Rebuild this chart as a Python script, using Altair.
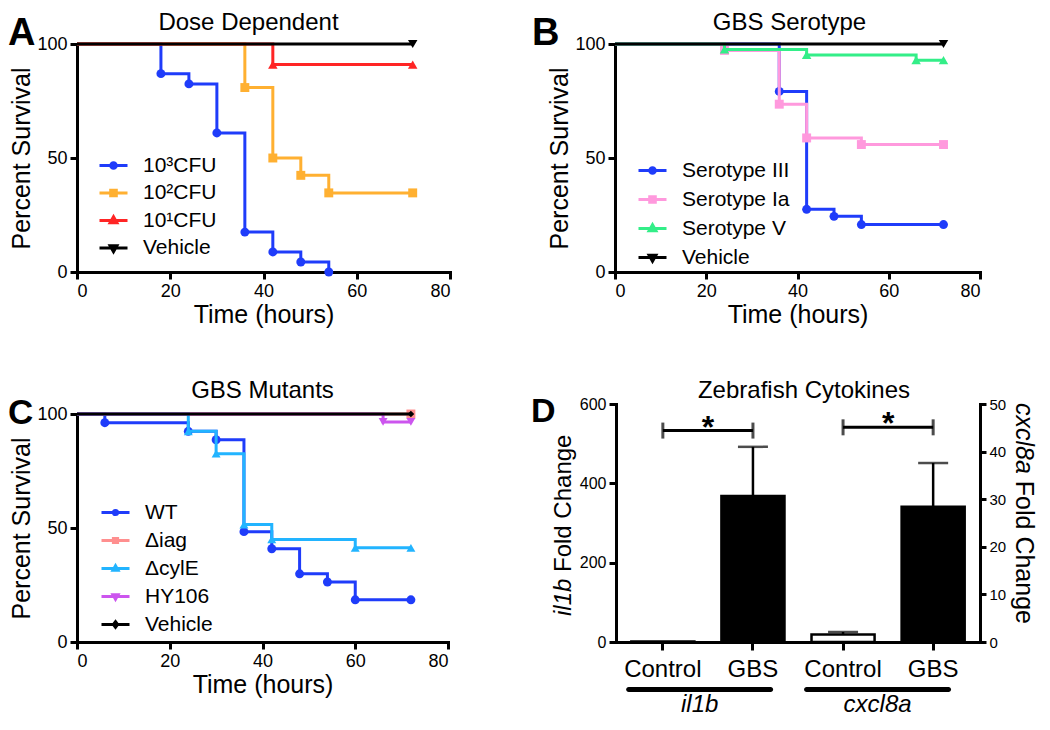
import altair as alt
import pandas as pd

FONT = "Liberation Sans"

# ---------------- Panel A : Dose Dependent ----------------
a_names = ["10³CFU", "10²CFU", "10¹CFU", "Vehicle"]
a_colors = ["#1f3cfa", "#ffb031", "#ff2525", "#000000"]
a_shapes = ["circle", "square", "triangle-up", "triangle-down"]
a_times = [
    [0, 18, 24, 30, 36, 42, 48, 54],
    [0, 36, 42, 48, 54, 72],
    [0, 42, 72],
    [0, 72],
]
a_surv = [
    [100, 87.0, 82.5, 61.0, 17.5, 8.8, 4.4, 0.0],
    [100, 80.9, 50.0, 42.4, 34.7, 34.7],
    [100, 91.0, 91.0],
    [100, 100],
]

# ---------------- Panel B : GBS Serotype ----------------
b_names = ["Serotype III", "Serotype Ia", "Serotype V", "Vehicle"]
b_colors = ["#1f3cfa", "#ff99dd", "#33ee88", "#000000"]
b_shapes = ["circle", "square", "triangle-up", "triangle-down"]
b_times = [
    [0, 36, 42, 48, 54, 72],
    [0, 24, 36, 42, 54, 72],
    [0, 24, 42, 66, 72],
    [0, 72],
]
b_surv = [
    [100, 79.2, 27.5, 24.4, 20.8, 20.8],
    [100, 97.2, 73.6, 58.8, 55.9, 55.9],
    [100, 97.6, 95.2, 92.9, 92.9],
    [100, 100],
]

# ---------------- Panel C : GBS Mutants ----------------
c_names = ["WT", "Δiag", "ΔcylE", "HY106", "Vehicle"]
c_colors = ["#1f3cfa", "#ff8f8f", "#22b4ff", "#cc55ee", "#000000"]
c_shapes = ["circle", "square", "triangle-up", "triangle-down", "diamond"]
c_times = [
    [0, 6, 24, 30, 36, 42, 48, 54, 60, 72],
    [0, 72],
    [0, 24, 30, 36, 42, 60, 72],
    [0, 66, 72],
    [0, 72],
]
c_surv = [
    [100, 96.2, 92.4, 88.7, 48.4, 40.9, 29.9, 26.3, 18.5, 18.5],
    [100, 100],
    [100, 92.4, 82.6, 51.5, 45.0, 41.3, 41.3],
    [100, 96.5, 96.5],
    [100, 100],
]

# ---------------- Panel D : Zebrafish Cytokines ----------------
d_cats = ["il1b Control", "il1b GBS", "cxcl8a Control", "cxcl8a GBS"]
d_groups = ["il1b", "cxcl8a"]
il1b_mean = [1.0, 368.0]
il1b_upper = [1.0, 492.0]
cxcl8a_mean = [1.6, 28.4]
cxcl8a_upper = [2.1, 37.6]
bar_fill = ["white", "black"]
il1b_bracket_y = 533.0
cxcl8a_bracket_y = 45.1
sig_mark = "*"

panel_letters = ["A", "B", "C", "D"]
surv_x_ticks = [0, 20, 40, 60, 80]
surv_y_ticks = [0, 50, 100]


def legend_path(shape, r):
    line = "M-1,0H1"
    if shape == "circle":
        m = f"M{-r},0A{r},{r} 0 1,1 {r},0A{r},{r} 0 1,1 {-r},0Z"
    elif shape == "square":
        m = f"M{-r},{-r}H{r}V{r}H{-r}Z"
    elif shape == "triangle-up":
        m = f"M0,{-1.3*r}L{1.2*r},{0.8*r}H{-1.2*r}Z"
    elif shape == "triangle-down":
        m = f"M0,{1.3*r}L{1.2*r},{-0.8*r}H{-1.2*r}Z"
    else:
        m = f"M0,{-1.3*r}L{r},0L0,{1.3*r}L{-r},0Z"
    return line + m


def letter_layer(letter, x, y, size):
    return alt.Chart(pd.DataFrame({"letter": [letter]})).mark_text(
        font=FONT, fontWeight="bold", fontSize=size, align="left",
        baseline="alphabetic", color="black"
    ).encode(text="letter:N", x=alt.value(x), y=alt.value(y))


def survival(title, names, colors, shapes, msizes, times, survs, letter, w, h,
             leg_x, leg_y, leg_rowpad, leg_r, title_dx, title_offset,
             letter_x, letter_y, letter_size, top_gap=0):
    rows = []
    for name, ts, ss in zip(names, times, survs):
        for i, (t, s) in enumerate(zip(ts, ss)):
            rows.append({"series": name, "t": t, "s": s, "marker": i > 0})
    df = pd.DataFrame(rows)
    x_enc = alt.X("t:Q", scale=alt.Scale(domain=[0, 80], nice=False),
                  axis=alt.Axis(values=surv_x_ticks, title="Time (hours)"))
    y_enc = alt.Y("s:Q", scale=alt.Scale(domain=[0, 100], nice=False, range=[h, top_gap]),
                  axis=alt.Axis(values=surv_y_ticks, title="Percent Survival"))
    layers = []
    for name, col, shp, ms in zip(names, colors, shapes, msizes):
        sub = alt.Chart(df).transform_filter(alt.datum.series == name)
        layers.append(sub.mark_line(interpolate="step-after", color=col,
                                    strokeWidth=3).encode(x=x_enc, y=y_enc))
        layers.append(sub.transform_filter("datum.marker").mark_point(
            filled=True, shape=shp, size=ms, color=col, opacity=1
        ).encode(x=x_enc, y=y_enc))
    leg = alt.Legend(title=None, orient="none", legendX=leg_x, legendY=leg_y,
                     labelFontSize=21, labelFont=FONT, labelColor="black",
                     labelOffset=14, symbolSize=784, symbolStrokeWidth=3,
                     rowPadding=leg_rowpad, padding=0)
    paths = [legend_path(s, leg_r) for s in shapes]
    legend_layer = alt.Chart(df).transform_filter("false").mark_point(
        filled=True, opacity=1
    ).encode(
        fill=alt.Fill("series:N", scale=alt.Scale(domain=names, range=colors), legend=leg),
        stroke=alt.Stroke("series:N", scale=alt.Scale(domain=names, range=colors), legend=leg),
        shape=alt.Shape("series:N", scale=alt.Scale(domain=names, range=paths), legend=leg),
    )
    return alt.layer(*layers, legend_layer,
                     letter_layer(letter, letter_x, letter_y, letter_size)).properties(
        width=w, height=h,
        title=alt.TitleParams(title, dx=title_dx, offset=title_offset),
    )


H1 = 228
panel_a = survival("Dose Dependent", a_names, a_colors, a_shapes, [80, 80, 90, 90],
                   a_times, a_surv, panel_letters[0], 373, H1,
                   21, 106, 1.5, 0.2, -15, -20, -69, 1, 38)
panel_b = survival("GBS Serotype", b_names, b_colors, b_shapes, [80, 80, 90, 90],
                   b_times, b_surv, panel_letters[1], 365, H1,
                   22, 111, 3, 0.2, -8, -20, -83, 1, 38)

DW, DH = 364, 238
panel_c = survival("GBS Mutants", c_names, c_colors, c_shapes, [80, 80, 80, 80, 45],
                   c_times, c_surv, panel_letters[2], 371, DH,
                   23, 93, 2, 0.15, 0, -7, -69, 20, 35, top_gap=10)

# ---------------- Panel D construction ----------------
xs_bar = alt.Scale(domain=d_cats, paddingInner=0.3, paddingOuter=0.17)
x_axis = alt.Axis(title=None, labelExpr="split(datum.label, ' ')[1]", labelAngle=0,
                  labelFontSize=24, tickSize=8, labelPadding=7)


def gene_layer(cats, mean, upper, bracket_y, ydomain, yvalues, orient, show_x):
    df = pd.DataFrame({"cat": cats, "mean": mean, "upper": upper, "fill": bar_fill})
    ysc = alt.Scale(domain=ydomain, nice=False)
    if orient == "left":
        yax = alt.Axis(orient="left", values=yvalues, title=None, labelFontSize=16,
                       tickSize=7, labelPadding=3)
    else:
        yax = alt.Axis(orient="right", values=yvalues, title=None, labelFontSize=15,
                       tickSize=6, labelPadding=3)
    xax = x_axis if show_x else None
    x = alt.X("cat:N", scale=xs_bar, axis=xax)
    bars = alt.Chart(df).mark_bar(stroke="black", strokeWidth=2.5).encode(
        x=x, y=alt.Y("mean:Q", scale=ysc, axis=yax), fill=alt.Fill("fill:N", scale=None))
    err = alt.Chart(df).transform_filter("datum.upper > datum.mean").mark_rule(
        strokeWidth=2.5, color="black").encode(
        x=x, y=alt.Y("mean:Q", scale=ysc, axis=yax), y2="upper:Q")
    cap = alt.Chart(df).transform_filter("datum.upper > datum.mean").mark_tick(
        orient="horizontal", size=30, thickness=2.5, color="black").encode(
        x=x, y=alt.Y("upper:Q", scale=ysc, axis=yax))
    bdf = pd.DataFrame({"start": [cats[0]], "end": [cats[1]], "y": [bracket_y], "star": [sig_mark]})
    ends = pd.DataFrame({"cat": cats, "y": [bracket_y, bracket_y]})
    rule = alt.Chart(bdf).mark_rule(strokeWidth=3, color="black").encode(
        x=alt.X("start:N", scale=xs_bar, axis=xax), x2="end:N",
        y=alt.Y("y:Q", scale=ysc, axis=yax))
    bcap = alt.Chart(ends).mark_tick(orient="vertical", size=16, thickness=3, color="black").encode(
        x=x, y=alt.Y("y:Q", scale=ysc, axis=yax))
    star = alt.Chart(bdf).mark_text(font=FONT, fontSize=32, fontWeight="bold", dx=-45, dy=7,
                                    baseline="alphabetic", color="black").encode(
        x=alt.X("end:N", scale=xs_bar, axis=xax), y=alt.Y("y:Q", scale=ysc, axis=yax),
        text="star:N")
    return alt.layer(bars, err, cap, rule, bcap, star)


il1b_layer = gene_layer(d_cats[:2], il1b_mean, il1b_upper, il1b_bracket_y,
                        [0, 600], [0, 200, 400, 600], "left", True)
cxcl_layer = gene_layer(d_cats[2:], cxcl8a_mean, cxcl8a_upper, cxcl8a_bracket_y,
                        [0, 50], [0, 10, 20, 30, 40, 50], "right", False)

gdf = pd.DataFrame({"group": d_groups})
gx = alt.X("group:N", scale=alt.Scale(domain=d_groups, paddingInner=0.174,
                                      paddingOuter=0.11, align=0.26), axis=None)
underline = alt.Chart(gdf).mark_bar(color="black", cornerRadius=2.5).encode(
    x=gx, y=alt.value(DH + 45), y2=alt.value(DH + 50))
glabel = alt.Chart(gdf).mark_text(font=FONT, fontSize=24, fontStyle="italic",
                                  baseline="alphabetic", color="black").encode(
    x=gx, y=alt.value(DH + 70), text="group:N")

# axis titles with italic gene names
LFS, RFS = 24, 25
left_t1 = alt.Chart(pd.DataFrame({"t": ["il1b"]})).mark_text(
    font=FONT, fontSize=LFS, fontStyle="italic", angle=270, align="left",
    baseline="alphabetic", color="black").encode(
    text="t:N", x=alt.value(-45), y=alt.value(DH - 26))
left_t2 = alt.Chart(pd.DataFrame({"t": ["Fold Change"]})).mark_text(
    font=FONT, fontSize=LFS, angle=270, align="left",
    baseline="alphabetic", color="black").encode(
    text="t:N", x=alt.value(-45), y=alt.value(DH - 26 - (1.556 + 0.278) * LFS))
right_t1 = alt.Chart(pd.DataFrame({"t": ["cxcl8a"]})).mark_text(
    font=FONT, fontSize=RFS, fontStyle="italic", angle=90, align="left",
    baseline="alphabetic", color="black").encode(
    text="t:N", x=alt.value(DW + 36), y=alt.value(-1))
right_t2 = alt.Chart(pd.DataFrame({"t": ["Fold Change"]})).mark_text(
    font=FONT, fontSize=RFS, angle=90, align="left",
    baseline="alphabetic", color="black").encode(
    text="t:N", x=alt.value(DW + 36), y=alt.value(-1 + (2.834 + 0.278) * RFS))

group_layer = alt.layer(underline, glabel, left_t1, left_t2, right_t1, right_t2,
                        letter_layer(panel_letters[3], -85, 18, 34))

panel_d = alt.layer(il1b_layer, cxcl_layer, group_layer).resolve_scale(
    x="independent", y="independent").properties(
    width=DW, height=DH,
    title=alt.TitleParams("Zebrafish Cytokines", dx=6, offset=-8))

indep = dict(fill="independent", stroke="independent", shape="independent")
top = alt.hconcat(panel_a, panel_b, spacing=80).resolve_scale(**indep)
bottom = alt.hconcat(panel_c, panel_d, spacing=81).resolve_scale(**indep)

chart = alt.vconcat(top, bottom, spacing=52).resolve_scale(**indep).properties(
    padding={"top": 3, "right": 4, "left": 0, "bottom": 0}
).configure_view(
    stroke=None
).configure_axis(
    labelFont=FONT, titleFont=FONT, labelColor="black", titleColor="black",
    domainColor="black", tickColor="black", domainWidth=3, tickWidth=3,
    tickSize=7, grid=False, labelFontSize=18, titleFontSize=25,
    titleFontWeight="normal", labelPadding=3, titlePadding=2, domainCap="square"
).configure_title(
    font=FONT, fontSize=24, fontWeight="normal", color="black", anchor="middle"
).configure_legend(
    labelFont=FONT, labelColor="black"
)

chart.save("out.html", embed_options={"renderer": "svg", "actions": False})
